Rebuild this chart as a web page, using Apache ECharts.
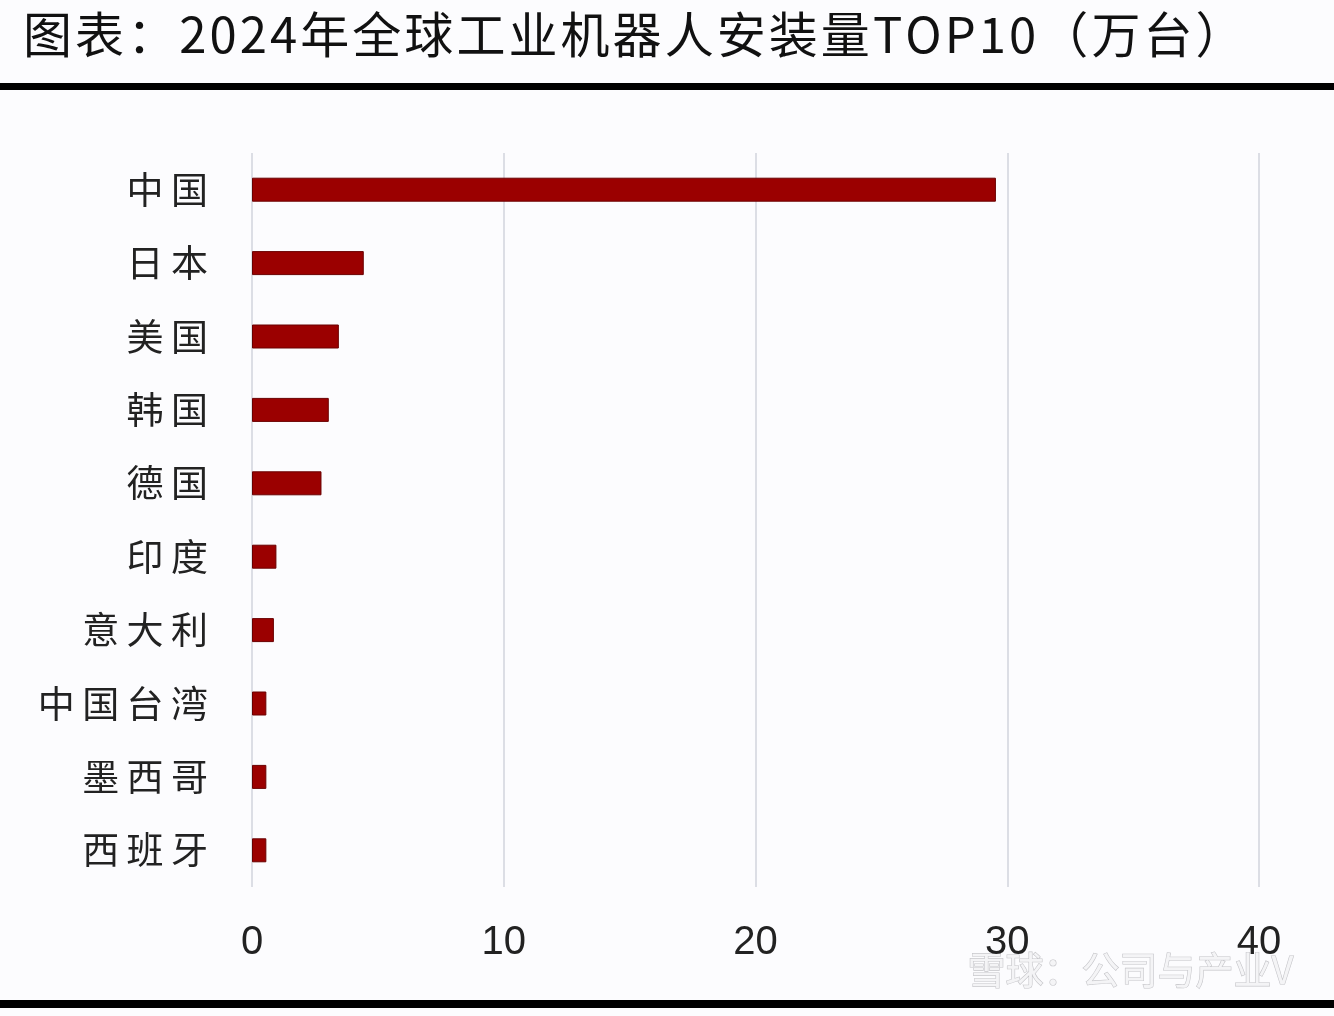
<!DOCTYPE html>
<html><head><meta charset="utf-8">
<script src="https://cdn.jsdelivr.net/npm/echarts@6/dist/echarts.min.js"></script>
<style>html,body{margin:0;padding:0;background:#fcfcfe}#c{width:1334px;height:1016px}</style>
</head><body><div id="c"></div>
<script>
const titleText = '图表：2024年全球工业机器人安装量TOP10（万台）';
const categories = ['中国','日本','美国','韩国','德国','印度','意大利','中国台湾','墨西哥','西班牙'];
const values = [29.55, 4.44, 3.45, 3.05, 2.76, 0.97, 0.87, 0.57, 0.57, 0.57];
const xTicks = [0, 10, 20, 30, 40];

const chart = echarts.init(document.getElementById('c'));
chart.setOption({
  backgroundColor: '#fcfcfe',
  animation: false,
  title: {
    text: titleText.split('').join('\u200a'), left: 18, top: 5,
    textStyle: {fontFamily: 'Noto Sans CJK SC', fontSize: 49, fontWeight: 'normal', color: '#111'}
  },
  graphic: [
    {type: 'rect', shape: {x: 0, y: 83, width: 1334, height: 7}, style: {fill: '#000'}},
    {type: 'rect', shape: {x: 0, y: 1000, width: 1334, height: 8}, style: {fill: '#000'}},
    {type: 'text', right: 40, top: 950, style: {text: '雪球：公司与产业V', fontFamily: 'Noto Sans CJK SC', fontSize: 38, fill: '#f4f4f6', stroke: '#c4c4c8', lineWidth: 1.2}}
  ],
  grid: {left: 252, right: 75, top: 153, bottom: 129, containLabel: false},
  xAxis: {
    type: 'value', min: 0, max: 40, interval: 10,
    axisLine: {show: false}, axisTick: {show: false},
    splitLine: {show: true, lineStyle: {color: '#d2d4dc', width: 1.5}},
    axisLabel: {
      margin: 36, color: '#222', fontSize: 40, fontFamily: 'Liberation Sans',
      formatter: v => xTicks.includes(v) ? String(v) : ''
    }
  },
  yAxis: {
    type: 'category', data: categories, inverse: true,
    axisLine: {show: false}, axisTick: {show: false},
    axisLabel: {
      margin: 44, color: '#222', fontSize: 37, fontFamily: 'Noto Sans CJK SC',
      formatter: v => v.split('').join('\u2009')
    }
  },
  series: [{
    type: 'bar', data: values, barWidth: 24,
    itemStyle: {color: '#9b0000', borderColor: '#6a0000', borderWidth: 1}
  }]
});
</script></body></html>
